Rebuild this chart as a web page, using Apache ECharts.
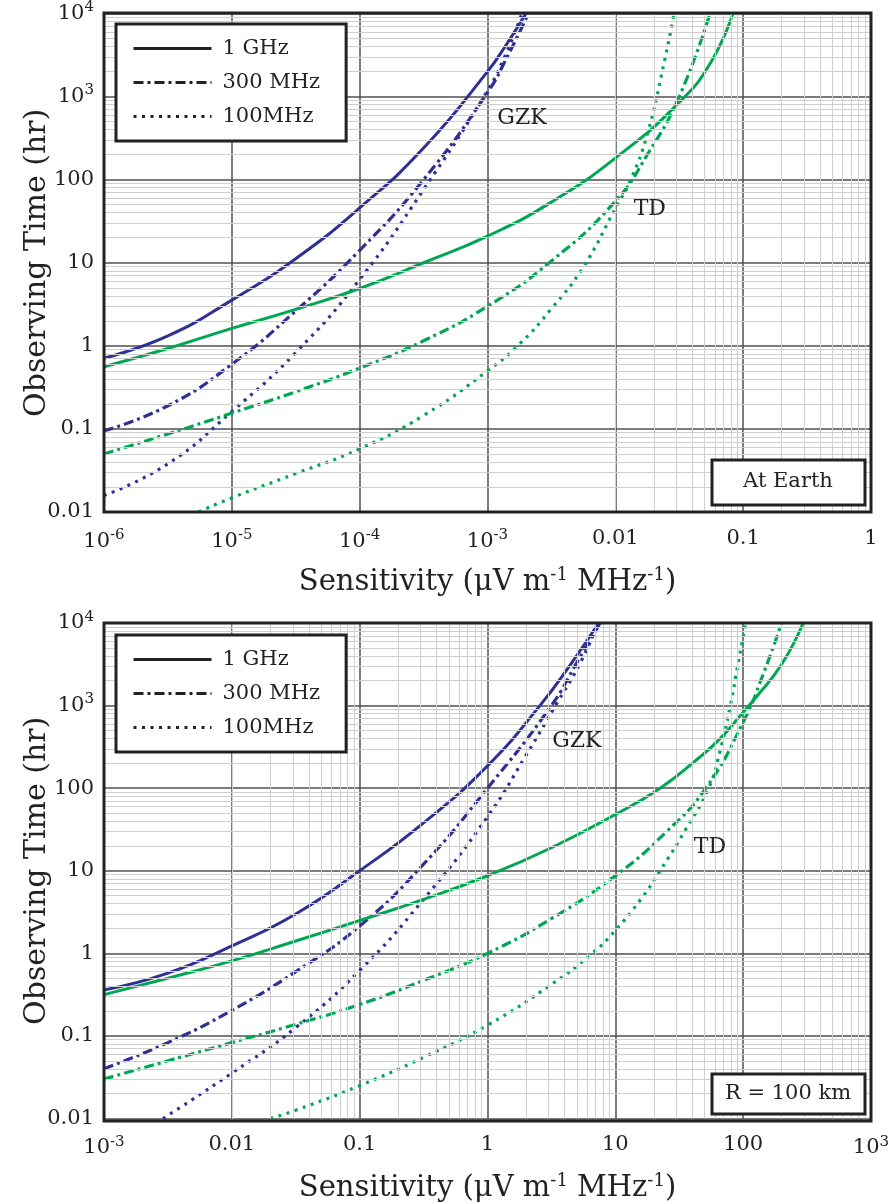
<!DOCTYPE html>
<html>
<head>
<meta charset="utf-8">
<script src="https://cdn.jsdelivr.net/npm/echarts@6/dist/echarts.min.js"></script>
<style>
html,body{margin:0;padding:0;background:#fff;}
#chart{width:896px;height:1204px;}
</style>
</head>
<body>
<div id="chart"></div>
<script>
// ---------- DATA ----------
// Top panel: "At Earth"  x = sensitivity, y = observing time (hr)
const gzk1GHzTop = [[1e-6,0.71],[3.16e-6,1.32],[1e-5,3.55],[3.16e-5,11.2],[1e-4,45.7],[3.16e-4,240],[1e-3,2000],[1.41e-3,4270],[2.0e-3,10000]];
const gzk300MHzTop = [[1e-6,0.095],[3.16e-6,0.19],[1e-5,0.60],[3.16e-5,2.63],[1e-4,14.1],[3.16e-4,100],[1e-3,1120],[1.45e-3,3160],[2.09e-3,10000]];
const gzk100MHzTop = [[1e-6,0.0158],[3.16e-6,0.038],[1e-5,0.162],[3.16e-5,0.83],[1e-4,6.3],[3.16e-4,76],[1e-3,1175],[1.38e-3,3160],[1.86e-3,10000]];
const td1GHzTop = [[1e-6,0.56],[3.16e-6,0.93],[1e-5,1.62],[3.16e-5,2.75],[1e-4,4.9],[3.16e-4,10],[1e-3,20.9],[3.16e-3,53.7],[0.01,182],[0.0316,851],[0.0562,2630],[0.0832,10000]];
const td300MHzTop = [[1e-6,0.050],[3.16e-6,0.087],[1e-5,0.155],[3.16e-5,0.28],[1e-4,0.54],[3.16e-4,1.15],[1e-3,3.0],[3.16e-3,10.5],[0.01,55],[0.0178,200],[0.0316,1000],[0.055,10000]];
const td100MHzTop = [[5.5e-6,0.01],[1e-5,0.0148],[3.16e-5,0.029],[1e-4,0.0575],[3.16e-4,0.145],[1e-3,0.50],[1.78e-3,1.05],[3.16e-3,2.8],[5.62e-3,8.9],[0.01,45],[0.0132,100],[0.0178,355],[0.024,2500],[0.0288,10000]];

// Bottom panel: "R = 100 km"
const gzk1GHzBot = [[1e-3,0.36],[3.16e-3,0.575],[0.01,1.23],[0.0316,3.0],[0.1,10],[0.316,38],[1,186],[2.57,1000],[4.47,3160],[7.4,10000]];
const gzk300MHzBot = [[1e-3,0.040],[3.16e-3,0.083],[0.01,0.204],[0.0316,0.60],[0.1,2.14],[0.316,12],[1,100],[3.16,1000],[5.0,3310],[7.6,10000]];
const gzk100MHzBot = [[2.9e-3,0.01],[0.01,0.0355],[0.0316,0.126],[0.1,0.62],[0.316,4.5],[1,45],[2.0,250],[3.55,1120],[5.25,3160],[7.4,10000]];
const td1GHzBot = [[1e-3,0.316],[3.16e-3,0.50],[0.01,0.81],[0.0316,1.41],[0.1,2.5],[0.316,4.5],[1,8.7],[3.16,19],[10,48],[22.4,100],[43.7,224],[66,398],[100,830],[126,1260],[200,3160],[295,10000]];
const td300MHzBot = [[1e-3,0.030],[3.16e-3,0.050],[0.01,0.083],[0.0316,0.138],[0.1,0.24],[0.316,0.47],[1,1.0],[3.16,2.63],[10,8.7],[25,29.5],[51,100],[100,630],[141,2240],[200,10000]];
const td100MHzBot = [[0.02,0.01],[0.0316,0.0126],[0.1,0.025],[0.316,0.055],[1,0.135],[3.16,0.42],[6.6,1.0],[10,1.9],[15.8,4.5],[22.4,10],[35.5,31.6],[53.7,100],[66,282],[79.4,1000],[91,3160],[105,10000]];

// Tick labels
const xTickLabelsTop = ['10^-6','10^-5','10^-4','10^-3','0.01','0.1','1'];
const xTickLabelsBottom = ['10^-3','0.01','0.1','1','10','100','10^3'];
const yTickLabels = ['0.01','0.1','1','10','100','10^3','10^4'];
const legendNames = ['1 GHz','300 MHz','100MHz'];
const panelLabels = ['At Earth','R = 100 km'];
// annotation positions (data coords)
const gzkPosTop = [1.86e-3, 550], tdPosTop = [0.0186, 44];
const gzkPosBot = [5.0, 373], tdPosBot = [55, 19];

// ---------- STYLE ----------
const FONT = "'DejaVu Serif', serif";
const BLUE = '#2e3192', GREEN = '#00a651', INK = '#222';
const DASHDOT = [10, 4, 3, 4];
const DOT = [3, 5.5];
const W = 3;

function toRich(s){
  const m = s.match(/^10\^(-?\d+)$/);
  return m ? '10{sup|' + m[1] + '}' : s;
}
function labelFmt(labels, minExp){
  return function(v){
    const e = Math.round(Math.log10(v));
    const s = labels[e - minExp];
    return s === undefined ? '' : toRich(s);
  };
}
const richSup = {sup:{fontSize:15, fontFamily:FONT, color:INK, padding:[0,0,12,0]}};

function minorValues(minExp, maxExp){
  const out = [];
  for (let e = minExp; e < maxExp; e++) for (let m = 2; m <= 9; m++) out.push(m * Math.pow(10, e));
  return out;
}

function xAxisCfg(gi, min, max, labels, minExp){
  return {type:'log', gridIndex:gi, min:min, max:max, logBase:10,
    axisLine:{show:false}, axisTick:{show:false},
    splitLine:{show:true, lineStyle:{color:'#505050', width:1.5}},
    axisLabel:{formatter:labelFmt(labels, minExp), margin:16, fontSize:21, fontFamily:FONT, color:INK, rich:richSup, showMinLabel:true, showMaxLabel:true},
    name:'Sensitivity (μV m{sup|-1} MHz{sup|-1})', nameLocation:'middle', nameGap:54,
    nameTextStyle:{fontSize:29, fontFamily:FONT, color:INK, rich:{sup:{fontSize:18, fontFamily:FONT, color:INK, padding:[0,0,14,0]}}}
  };
}
function yAxisCfg(gi){
  return {type:'log', gridIndex:gi, min:0.01, max:10000, logBase:10,
    axisLine:{show:false}, axisTick:{show:false},
    splitLine:{show:true, lineStyle:{color:'#505050', width:1.5}},
    axisLabel:{formatter:labelFmt(yTickLabels, -2), margin:10, fontSize:21, fontFamily:FONT, color:INK, rich:richSup, showMinLabel:true, showMaxLabel:true},
    name:'Observing Time (hr)', nameLocation:'middle', nameGap:52, nameRotate:90, nameMoveOverlap:false,
    nameTextStyle:{fontSize:30, fontFamily:FONT, color:INK}
  };
}

function curve(name, data, gi, color, type){
  return {type:'line', name:name, xAxisIndex:gi, yAxisIndex:gi, data:data,
    showSymbol:false, symbol:'none', smooth:0.5, clip:true, z:3,
    lineStyle:{color:color, width:(type==='solid'?W:3.2), type:type, cap:'butt'}, itemStyle:{color:color},
    animation:false, silent:true};
}
function gridHelper(gi, xmin, xmax){
  const xs = minorValues(xmin, xmax).map(v => ({xAxis:v}));
  const ys = minorValues(-2, 4).map(v => ({yAxis:v}));
  return {type:'line', xAxisIndex:gi, yAxisIndex:gi, data:[], z:1, silent:true, animation:false,
    markLine:{silent:true, symbol:['none','none'], label:{show:false}, animation:false,
      lineStyle:{color:'#cfcfcf', width:1, type:'solid'}, emphasis:{disabled:true}, data:xs.concat(ys)}};
}
function annot(gi, points){
  return {type:'line', xAxisIndex:gi, yAxisIndex:gi, data:[], z:6, silent:true, animation:false,
    markPoint:{symbol:'circle', symbolSize:1, itemStyle:{color:'rgba(0,0,0,0)'}, animation:false,
      label:{show:true, position:'inside', fontSize:22, fontFamily:FONT, color:INK, formatter:p=>p.name},
      data:points.map(p=>({name:p[0], coord:p[1]}))}};
}
function legendCfg(top){
  return {orient:'vertical', left:116, top:top, padding:[14,26,14,16], itemWidth:78, itemHeight:14, itemGap:13,
    borderColor:INK, borderWidth:3, backgroundColor:'#fff', selectedMode:false,
    itemStyle:{color:'rgba(0,0,0,0)', borderWidth:0},
    lineStyle:{width:3, color:INK},
    textStyle:{fontSize:21, fontFamily:FONT, color:INK, padding:[0,0,0,6]}, data:legendNames, z:20};
}
function legendSample(name, type){
  return {type:'line', name:name, xAxisIndex:0, yAxisIndex:0, data:[], symbol:'none',
    lineStyle:{color:INK, width:3, type:type}, itemStyle:{color:'rgba(0,0,0,0)'}};
}

const G = [{left:104, top:13, width:767, height:499}, {left:104, top:623, width:767, height:498}];

const option = {
  backgroundColor:'#fff',
  animation:false,
  grid: G.map(g => Object.assign({containLabel:false}, g)),
  xAxis:[xAxisCfg(0, 1e-6, 1, xTickLabelsTop, -6), xAxisCfg(1, 1e-3, 1000, xTickLabelsBottom, -3)],
  yAxis:[yAxisCfg(0), yAxisCfg(1)],
  legend:[legendCfg(24), legendCfg(635)],
  series:[
    gridHelper(0, -6, 0), gridHelper(1, -3, 3),
    legendSample(legendNames[0], 'solid'),
    legendSample(legendNames[1], DASHDOT),
    legendSample(legendNames[2], DOT),
    curve('GZK 1 GHz', gzk1GHzTop, 0, BLUE, 'solid'),
    curve('GZK 300 MHz', gzk300MHzTop, 0, BLUE, DASHDOT),
    curve('GZK 100MHz', gzk100MHzTop, 0, BLUE, DOT),
    curve('TD 1 GHz', td1GHzTop, 0, GREEN, 'solid'),
    curve('TD 300 MHz', td300MHzTop, 0, GREEN, DASHDOT),
    curve('TD 100MHz', td100MHzTop, 0, GREEN, DOT),
    curve('GZK 1 GHz ', gzk1GHzBot, 1, BLUE, 'solid'),
    curve('GZK 300 MHz ', gzk300MHzBot, 1, BLUE, DASHDOT),
    curve('GZK 100MHz ', gzk100MHzBot, 1, BLUE, DOT),
    curve('TD 1 GHz ', td1GHzBot, 1, GREEN, 'solid'),
    curve('TD 300 MHz ', td300MHzBot, 1, GREEN, DASHDOT),
    curve('TD 100MHz ', td100MHzBot, 1, GREEN, DOT),
    annot(0, [['GZK', gzkPosTop], ['TD', tdPosTop]]),
    annot(1, [['GZK', gzkPosBot], ['TD', tdPosBot]])
  ],
  graphic:[
    {type:'rect', z:100, silent:true, shape:{x:G[0].left, y:G[0].top, width:G[0].width, height:G[0].height}, style:{fill:'none', stroke:INK, lineWidth:3}},
    {type:'rect', z:100, silent:true, shape:{x:G[1].left, y:G[1].top, width:G[1].width, height:G[1].height}, style:{fill:'none', stroke:INK, lineWidth:3}},
    {type:'rect', z:101, silent:true, shape:{x:712, y:460, width:153, height:45}, style:{fill:'#fff', stroke:INK, lineWidth:3}},
    {type:'text', z:102, silent:true, x:788, y:482, style:{text:panelLabels[0], font:'21px ' + FONT, fill:INK, textAlign:'center', textVerticalAlign:'middle'}},
    {type:'rect', z:101, silent:true, shape:{x:712, y:1074, width:153, height:40}, style:{fill:'#fff', stroke:INK, lineWidth:3}},
    {type:'text', z:102, silent:true, x:788, y:1094, style:{text:panelLabels[1], font:'21px ' + FONT, fill:INK, textAlign:'center', textVerticalAlign:'middle'}}
  ]
};

const chart = echarts.init(document.getElementById('chart'), null, {renderer:'canvas'});
chart.setOption(option);
</script>
</body>
</html>
